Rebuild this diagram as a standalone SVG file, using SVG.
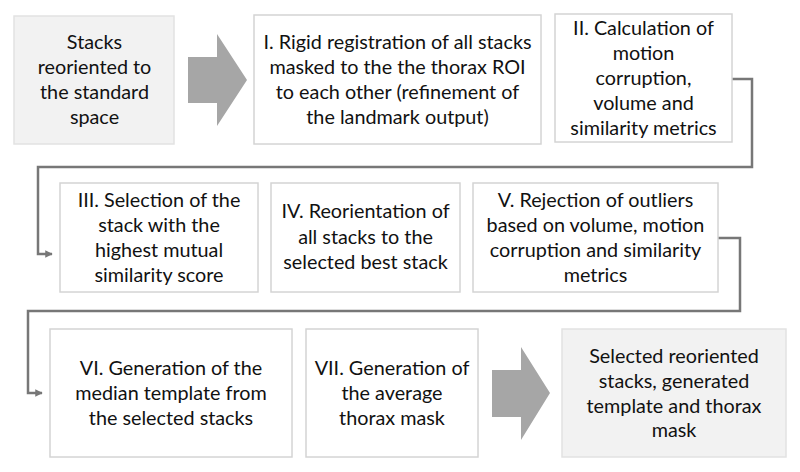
<svg xmlns="http://www.w3.org/2000/svg" width="800" height="472" viewBox="0 0 800 472">
<style>
.box{fill:#ffffff;stroke:#d4d4d4;stroke-width:1.5}
.gbox{fill:#f2f2f2;stroke:#e2e2e2;stroke-width:1.5}
.big{fill:#a6a6a6}
.t{font-family:Lato,"Liberation Sans",sans-serif;font-size:19.8px;fill:#111111;text-anchor:middle}
.con{fill:none;stroke:#777777;stroke-width:2.5}
</style>
<defs>
<marker id="ah" viewBox="0 0 10 10" refX="9" refY="5" markerWidth="3" markerHeight="3" orient="auto" markerUnits="strokeWidth">
<path d="M0,0 L10,5 L0,10 z" fill="#777777"/>
</marker>
</defs>
<rect width="800" height="472" fill="#ffffff"/>
<g id="connectors">
<path class="con" d="M732,79 H752 V167 H38 V254 H52" marker-end="url(#ah)"/>
<path class="con" d="M718,238 H740 V311 H28 V393 H42" marker-end="url(#ah)"/>
<polygon class="big" points="188,57 217,57 217,34 247,80 217,126 217,103 188,103"/>
<polygon class="big" points="492,370 521,370 521,347 550,393 521,440 521,417 492,417"/>
</g>
<g id="n0">
<rect class="gbox" x="14" y="16" width="160" height="128"/>
<text class="t" x="94.5" y="49">Stacks</text>
<text class="t" x="94.5" y="74">reoriented to</text>
<text class="t" x="94.5" y="99">the standard</text>
<text class="t" x="94.5" y="124">space</text>
</g>
<g id="n1">
<rect class="box" x="254" y="15" width="287" height="129"/>
<text class="t" x="397.5" y="49">I. Rigid registration of all stacks</text>
<text class="t" x="397.5" y="74">masked to the the thorax ROI</text>
<text class="t" x="397.5" y="99">to each other (refinement of</text>
<text class="t" x="397.5" y="124">the landmark output)</text>
</g>
<g id="n2">
<rect class="box" x="555" y="14" width="177" height="128"/>
<text class="t" x="643.5" y="35">II. Calculation of</text>
<text class="t" x="643.5" y="60">motion</text>
<text class="t" x="643.5" y="85">corruption,</text>
<text class="t" x="643.5" y="110">volume and</text>
<text class="t" x="643.5" y="135">similarity metrics</text>
</g>
<g id="n3">
<rect class="box" x="60" y="183" width="198" height="109"/>
<text class="t" x="159" y="207">III. Selection of the</text>
<text class="t" x="159" y="232">stack with the</text>
<text class="t" x="159" y="257">highest mutual</text>
<text class="t" x="159" y="282">similarity score</text>
</g>
<g id="n4">
<rect class="box" x="271" y="183" width="189" height="109"/>
<text class="t" x="365.5" y="218">IV. Reorientation of</text>
<text class="t" x="365.5" y="244">all stacks to the</text>
<text class="t" x="365.5" y="269">selected best stack</text>
</g>
<g id="n5">
<rect class="box" x="473" y="183" width="245" height="109"/>
<text class="t" x="595.5" y="207">V. Rejection of outliers</text>
<text class="t" x="595.5" y="232">based on volume, motion</text>
<text class="t" x="595.5" y="257">corruption and similarity</text>
<text class="t" x="595.5" y="282">metrics</text>
</g>
<g id="n6">
<rect class="box" x="50" y="329" width="242" height="128"/>
<text class="t" x="171" y="375">VI. Generation of the</text>
<text class="t" x="171" y="400">median template from</text>
<text class="t" x="171" y="425">the selected stacks</text>
</g>
<g id="n7">
<rect class="box" x="306" y="329" width="172" height="128"/>
<text class="t" x="392" y="375">VII. Generation of</text>
<text class="t" x="392" y="400">the average</text>
<text class="t" x="392" y="425">thorax mask</text>
</g>
<g id="n8">
<rect class="gbox" x="562" y="329" width="224" height="128"/>
<text class="t" x="674" y="363">Selected reoriented</text>
<text class="t" x="674" y="388">stacks, generated</text>
<text class="t" x="674" y="413">template and thorax</text>
<text class="t" x="674" y="437">mask</text>
</g>
</svg>
